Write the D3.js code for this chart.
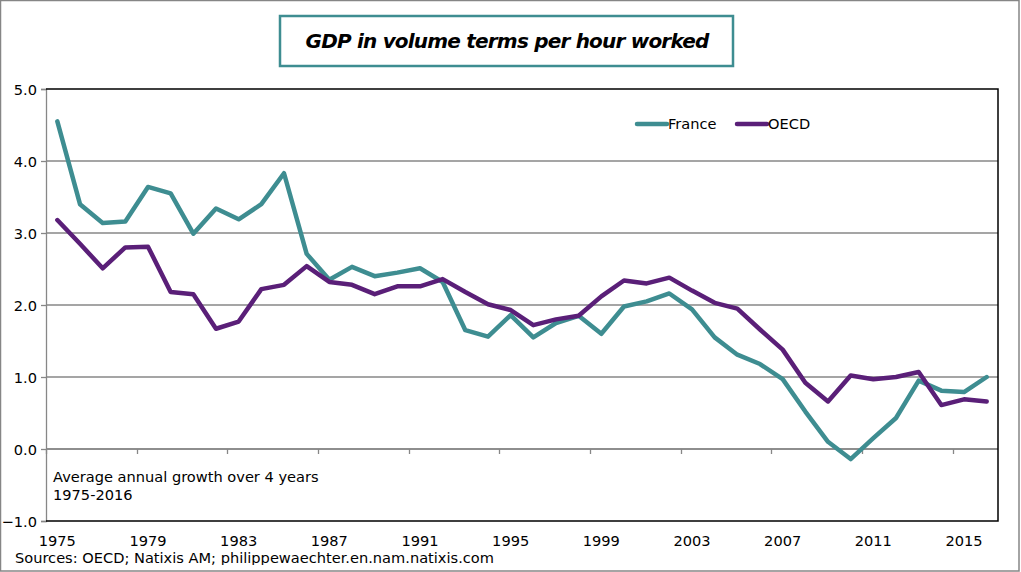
<!DOCTYPE html>
<html><head><meta charset="utf-8">
<script src="https://cdn.jsdelivr.net/npm/d3@7"></script>
<style>
html,body{margin:0;padding:0;background:#fff;}
svg{display:block;}
text{font-family:"DejaVu Sans",Verdana,sans-serif;fill:#000;}
</style></head>
<body>
<script>
const years = d3.range(1975, 2017);
const tickYears = [1975,1979,1983,1987,1991,1995,1999,2003,2007,2011,2015];
const yTicks = [-1,0,1,2,3,4,5];
const france = [4.55,3.40,3.14,3.16,3.64,3.55,2.99,3.34,3.19,3.40,3.83,2.71,2.35,2.53,2.40,2.45,2.51,2.32,1.65,1.56,1.86,1.55,1.75,1.85,1.60,1.98,2.05,2.16,1.94,1.55,1.31,1.18,0.97,0.52,0.10,-0.14,0.15,0.43,0.95,0.81,0.79,1.00];
const oecd = [3.18,2.85,2.51,2.80,2.81,2.18,2.15,1.67,1.77,2.22,2.28,2.54,2.32,2.28,2.15,2.26,2.26,2.36,2.18,2.01,1.93,1.72,1.80,1.85,2.12,2.34,2.30,2.38,2.20,2.03,1.95,1.66,1.38,0.92,0.66,1.02,0.97,1.00,1.07,0.61,0.69,0.66];
const seriesNames = ["France","OECD"];
const colors = ["#3E8D91","#5A1F78"];
const titleText = "GDP in volume terms per hour worked";
const noteLines = ["Average annual growth over 4 years","1975-2016"];
const sourceText = "Sources: OECD; Natixis AM; philippewaechter.en.nam.natixis.com";

const W = 1021, H = 572;
const FS = 14.6;
const svg = d3.select("body").append("svg").attr("width", W).attr("height", H);

// outer frame
svg.append("rect").attr("x",0.5).attr("y",0.5).attr("width",1018.5).attr("height",570.5)
  .attr("fill","#fff").attr("stroke","#868686").attr("stroke-width",1.5);

const L = 46, R = 998, T = 89, B = 521;
const x = d3.scaleBand().domain(years).range([L, R]).padding(0);
const y = d3.scaleLinear().domain([-1, 5]).range([B, T]);

// gridlines
svg.append("g").selectAll("line").data(yTicks.filter(v => v > -1 && v < 5)).join("line")
  .attr("x1", L).attr("x2", R).attr("y1", d => y(d)).attr("y2", d => y(d))
  .attr("stroke", "#878787").attr("stroke-width", 1.3);

// y axis
const yAxis = svg.append("g").attr("transform", `translate(${L},0)`)
  .call(d3.axisLeft(y).tickValues(yTicks).tickFormat(d3.format(".1f")).tickSize(5).tickPadding(4));
yAxis.select(".domain").attr("stroke", "#878787").attr("stroke-width", 1.3);
yAxis.selectAll(".tick line").attr("stroke", "#878787").attr("stroke-width", 1.3);
yAxis.selectAll("text").attr("font-size", FS).attr("font-family", "DejaVu Sans").attr("fill","#000").attr("dy","0.35em");

// x axis at zero line with boundary ticks
const xAxisG = svg.append("g").attr("transform", `translate(0,${y(0)})`);
xAxisG.append("line").attr("x1", L).attr("x2", R).attr("stroke", "#878787").attr("stroke-width", 1.3);
xAxisG.selectAll("line.t").data(tickYears).join("line").attr("class","t")
  .attr("x1", d => Math.round(x(d))+0.5).attr("x2", d => Math.round(x(d))+0.5).attr("y1", 0).attr("y2", 5)
  .attr("stroke", "#878787").attr("stroke-width", 1.3);

// x labels at bottom
svg.append("g").selectAll("text").data(tickYears).join("text")
  .attr("x", d => x(d) + x.bandwidth()/2).attr("y", 546)
  .attr("text-anchor","middle").attr("font-size", FS).text(d => d);

// plot border: top, right, bottom black
svg.append("path").attr("d", `M${L},${T}H${R}V${B}H${L}`)
  .attr("fill","none").attr("stroke","#000").attr("stroke-width",1.5);

// lines
const line = d3.line().x((d,i) => x(years[i]) + x.bandwidth()/2).y(d => y(d));
[france, oecd].forEach((s, k) => {
  svg.append("path").datum(s).attr("d", line)
    .attr("fill","none").attr("stroke", colors[k]).attr("stroke-width", 4.5)
    .attr("stroke-linejoin","round").attr("stroke-linecap","round");
});

// legend
const legX = [637, 737];
seriesNames.forEach((n, k) => {
  svg.append("line").attr("x1", legX[k]).attr("x2", legX[k]+30).attr("y1",124).attr("y2",124)
    .attr("stroke", colors[k]).attr("stroke-width",4.5).attr("stroke-linecap","round");
  svg.append("text").attr("x", legX[k]+31).attr("y", 129).attr("font-size", FS).text(n);
});

// title box
svg.append("rect").attr("x",280).attr("y",16).attr("width",453).attr("height",50)
  .attr("fill","#fff").attr("stroke","#3E8D91").attr("stroke-width",2.5);
svg.append("text").attr("x", 507).attr("y", 48).attr("text-anchor","middle")
  .attr("font-family","Liberation Sans, Arial, sans-serif").attr("font-weight","bold").attr("font-style","italic")
  .attr("font-size", 20).attr("letter-spacing", -0.8).text(titleText);

// note
noteLines.forEach((t,i) => {
  svg.append("text").attr("x", 53).attr("y", 482 + i*17.5).attr("font-size", FS).text(t);
});

// source (clipped at bottom like reference)
svg.append("clipPath").attr("id","srcclip").append("rect").attr("x",0).attr("y",540).attr("width",W).attr("height",25);
svg.append("text").attr("x", 15).attr("y", 563).attr("font-size", FS).attr("clip-path","url(#srcclip)").text(sourceText);
</script>
</body></html>
